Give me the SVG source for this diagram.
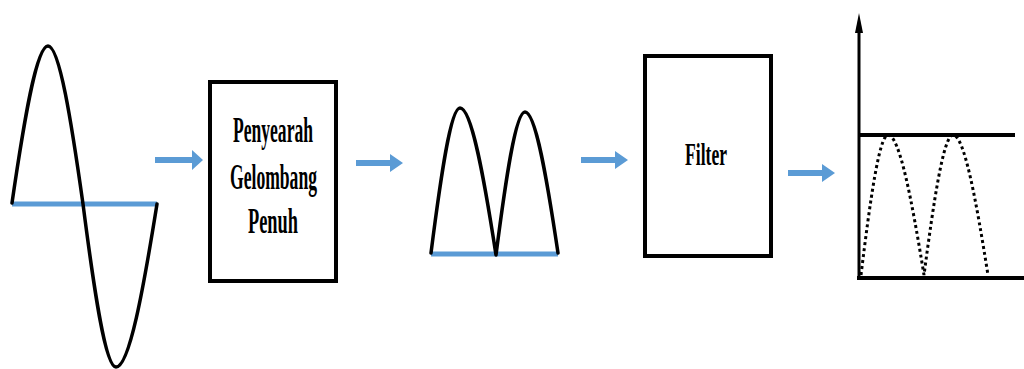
<svg xmlns="http://www.w3.org/2000/svg" width="1024" height="369" viewBox="0 0 1024 369">
<style>
.wave{fill:none;stroke:#000;stroke-width:3.5;stroke-linecap:round;stroke-linejoin:round}
.dot{fill:none;stroke:#000;stroke-width:3;stroke-dasharray:3 3}
.base{stroke:#5b9bd5;stroke-width:5}
.box{fill:#fff;stroke:#000;stroke-width:4}
.lbl{font-family:"Liberation Serif","Times New Roman",serif;font-weight:bold;fill:#000;text-anchor:middle}
.arrow{fill:#5b9bd5}
.axis{stroke:#000;stroke-width:4}
</style>
<rect width="1024" height="369" fill="#fff"/>
<g id="input-wave">
<line class="base" x1="12" y1="204" x2="157" y2="204"/>
<path class="wave" d="M12,203 C24,120.6 36.3,46 48,46 C59.4,46 71.3,121 83,204 C94,289.6 105.2,367 116,367 C129.4,367 143.3,289.6 157,204"/>
</g>
<g id="rectifier">
<rect class="box" x="210" y="82" width="126" height="199"/>
<text class="lbl" x="273" y="142" font-size="35" textLength="80" lengthAdjust="spacingAndGlyphs">Penyearah</text>
<text class="lbl" x="273.5" y="189" font-size="35" textLength="87" lengthAdjust="spacingAndGlyphs">Gelombang</text>
<text class="lbl" x="273" y="233" font-size="35" textLength="50" lengthAdjust="spacingAndGlyphs">Penuh</text>
</g>
<g id="rectified-wave">
<line class="base" x1="431" y1="254" x2="558" y2="254"/>
<path class="wave" d="M431,253 C440.7,176.9 450.5,108 460,108 C471.7,108 484,177.3 496,255 C505.7,179.4 515.5,112 525,112 C535.8,112 547,179 558,253"/>
</g>
<g id="filter">
<rect class="box" x="645" y="56" width="126" height="200"/>
<text class="lbl" x="706" y="165" font-size="32" textLength="42" lengthAdjust="spacingAndGlyphs">Filter</text>
</g>
<g id="output-wave">
<line x1="859" y1="30" x2="859" y2="280" stroke="#000" stroke-width="3"/>
<polygon points="859,13 855,33 863,33" fill="#000"/>
<line class="axis" x1="859" y1="135" x2="1015" y2="135"/>
<line class="axis" x1="857" y1="278" x2="1024" y2="278"/>
<path class="dot" d="M861,275 C870,201.5 879.2,135 888,135 C899.7,135 912,201.5 924,275 C933.7,201.5 943.5,135 953,135 C964.4,135 976.3,201.5 988,275"/>
</g>
<g id="connectors">
<polygon class="arrow" points="155,157 192,157 192,150 203,160 192,170 192,163 155,163"/>
<polygon class="arrow" points="356,160 390,160 390,154 403,163 390,172 390,166 356,166"/>
<polygon class="arrow" points="581,157 615,157 615,151 628,160 615,169 615,163 581,163"/>
<polygon class="arrow" points="788,170 822,170 822,164 835,173 822,182 822,176 788,176"/>
</g>
</svg>
